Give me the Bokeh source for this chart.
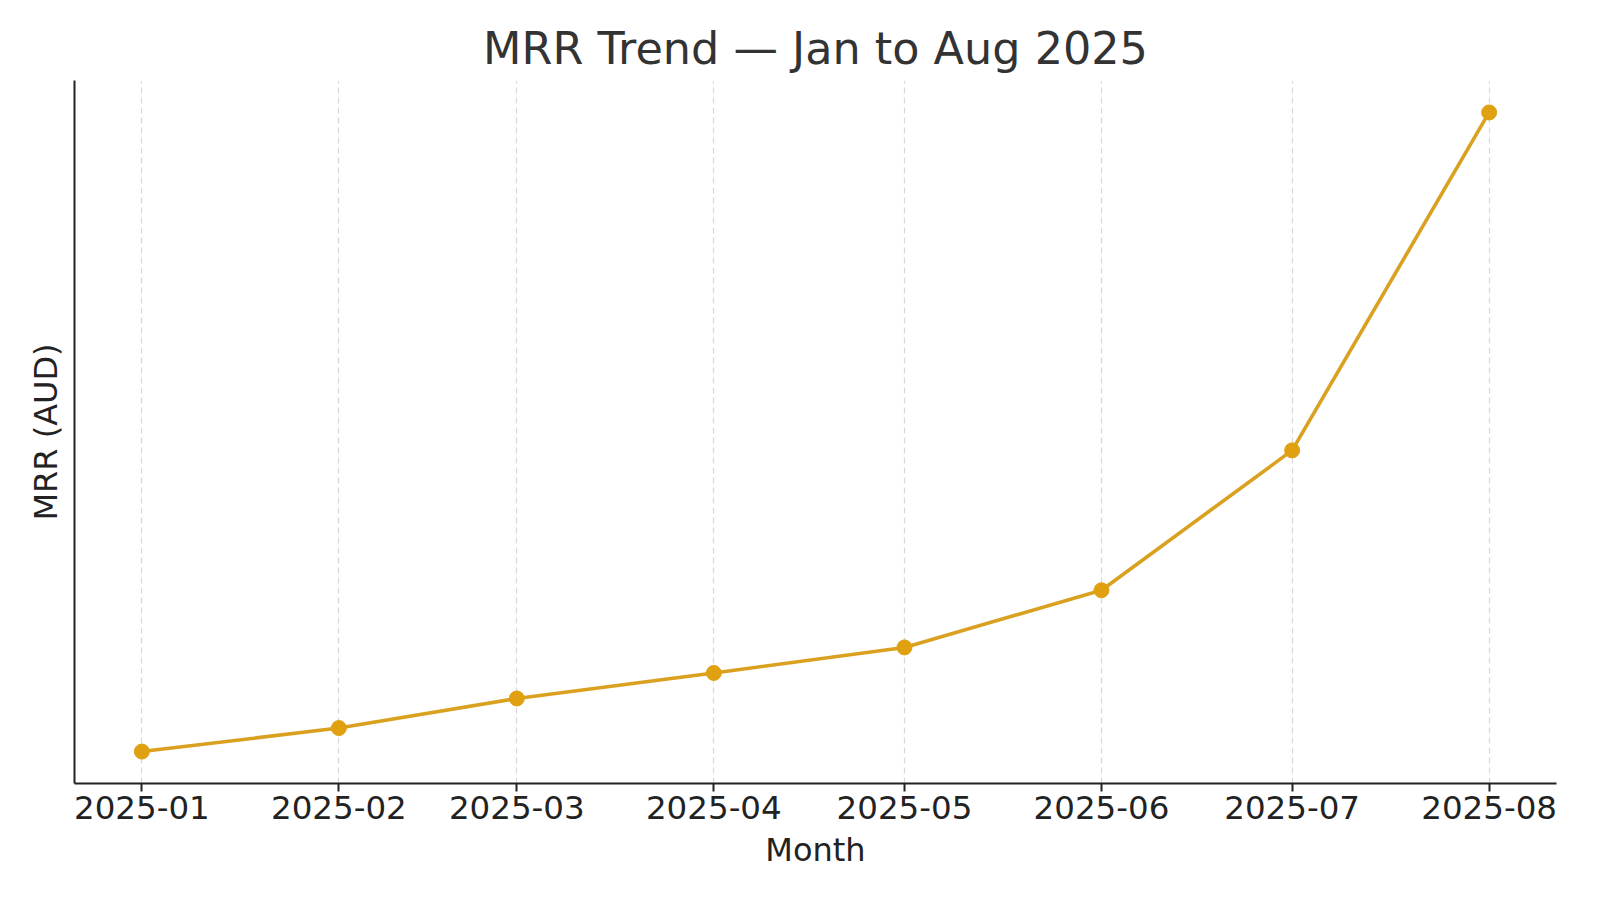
from datetime import datetime, timedelta
from bokeh.plotting import figure
from bokeh.models import FixedTicker, DatetimeTickFormatter, Range1d, ColumnDataSource
from bokeh.embed import file_html
from bokeh.resources import INLINE

months = ["2025-01", "2025-02", "2025-03", "2025-04", "2025-05", "2025-06", "2025-07", "2025-08"]
mrr = [1280, 1740, 2320, 2820, 3320, 4440, 7180, 13800]

dates = [datetime.strptime(m + "-01", "%Y-%m-%d") for m in months]
span = dates[-1] - dates[0]
pad = span * 0.05
ymin, ymax = min(mrr), max(mrr)
ypad = (ymax - ymin) * 0.05

FONT = "DejaVu Sans"

p = figure(width=1584, height=884, x_axis_type="datetime",
           output_backend="svg", toolbar_location=None,
           x_range=Range1d(dates[0] - pad, dates[-1] + pad),
           y_range=Range1d(ymin - ypad, ymax + ypad),
           min_border_left=74, min_border_right=28, min_border_top=80, min_border_bottom=101)

p.title.text = "MRR Trend \u2014 Jan to Aug 2025"
p.title.align = "center"
p.title.text_font = FONT
p.title.text_font_size = "44.5px"
p.title.text_font_style = "normal"
p.title.text_color = "#333333"
p.title.standoff = 13

p.outline_line_color = None
p.background_fill_color = "white"
p.border_fill_color = "white"

src = ColumnDataSource(dict(x=dates, y=mrr))
p.line("x", "y", source=src, line_color="#DAA020", line_width=3.6)
p.scatter("x", "y", source=src, size=15, fill_color="#E0A010", line_color="#E0A010")

tick_ms = [d.timestamp() * 1000 for d in dates]
xa = p.xaxis[0]
xa.ticker = FixedTicker(ticks=tick_ms)
xa.formatter = DatetimeTickFormatter(months="%Y-%m", days="%Y-%m", hours="%Y-%m")
xa.major_label_text_font = FONT
xa.major_label_text_font_size = "32.5px"
xa.major_label_text_color = "#222222"
xa.axis_label = "Month"
xa.axis_label_text_font = FONT
xa.axis_label_text_font_size = "32px"
xa.axis_label_text_font_style = "normal"
xa.axis_label_text_color = "#222222"
xa.axis_label_standoff = 9
xa.axis_line_color = "#222222"
xa.axis_line_width = 2
xa.major_tick_line_color = "#222222"
xa.major_tick_line_width = 2
xa.major_tick_out = 8
xa.major_tick_in = 0
xa.minor_tick_line_color = None
xa.major_label_standoff = 4

ya = p.yaxis[0]
ya.ticker = FixedTicker(ticks=[])
ya.minor_tick_line_color = None
ya.major_tick_line_color = None
ya.axis_label = "MRR (AUD)"
ya.axis_label_text_font = FONT
ya.axis_label_text_font_size = "32px"
ya.axis_label_text_font_style = "normal"
ya.axis_label_text_color = "#222222"
ya.axis_label_standoff = 10
ya.axis_line_color = "#222222"
ya.axis_line_width = 2

p.xgrid.grid_line_color = "#d8d8d8"
p.xgrid.grid_line_dash = "6 4"
p.xgrid.grid_line_width = 1.2
p.ygrid.grid_line_color = None

open("out.html", "w").write(file_html(p, INLINE))
